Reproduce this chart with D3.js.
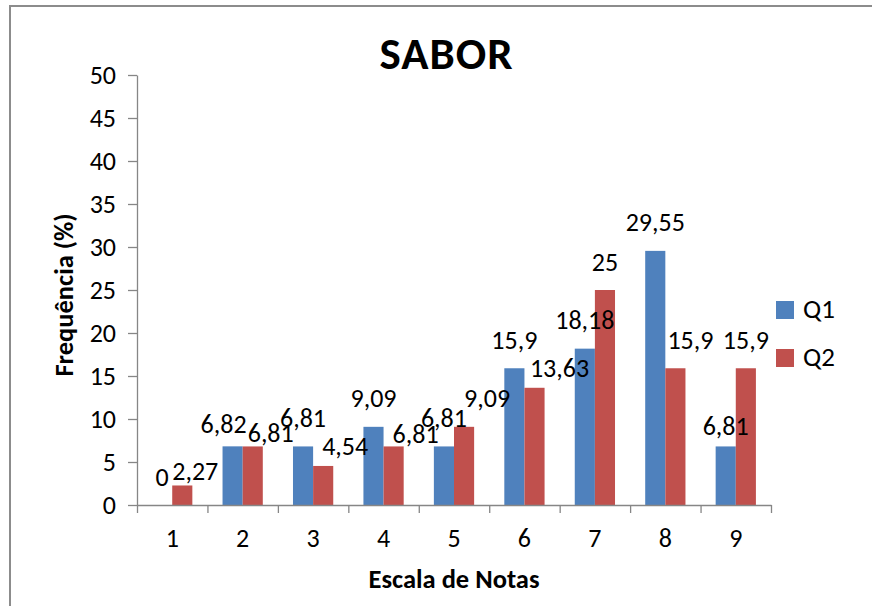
<!DOCTYPE html>
<html>
<head>
<meta charset="utf-8">
<script src="https://cdn.jsdelivr.net/npm/d3@7"></script>
<style>
  html, body { margin: 0; padding: 0; background: #ffffff; }
  svg { display: block; }
  text { font-family: Carlito, Lato, "Open Sans", sans-serif; fill: #000; }
</style>
</head>
<body>
<svg id="chart" width="872" height="606"></svg>
<script>
// ---- data ----
const title = "SABOR";
const categories = ["1", "2", "3", "4", "5", "6", "7", "8", "9"];
const seriesNames = ["Q1", "Q2"];
const q1Values = [0, 6.82, 6.81, 9.09, 6.81, 15.9, 18.18, 29.55, 6.81];
const q2Values = [2.27, 6.81, 4.54, 6.81, 9.09, 13.63, 25, 15.9, 15.9];
const yTickValues = [0, 5, 10, 15, 20, 25, 30, 35, 40, 45, 50];
const xAxisTitle = "Escala de Notas";
const yAxisTitle = "Frequência (%)";

// ---- layout (label nudges reproduce the manually moved data labels) ----
const colors = { Q1: "#4F81BD", Q2: "#C0504D" };
const labelNudge = {
  Q1: { dx: [0, -9, 0, 0, 0, 0, 0, 0, 0], dy: [0, 6.5, 0, 0, 0, 0, 0, 0, 8] },
  Q2: { dx: [13, 18, 22, 22, 23, 25, 0, 15, 0], dy: [14, 15, 8.5, 16.5, 0, 8.5, 0, 0, 0] }
};
const plot = { left: 137, right: 771, top: 75, bottom: 505 };

const svg = d3.select("#chart");

// chart frame
svg.append("rect")
  .attr("x", 10).attr("y", 6)
  .attr("width", 900).attr("height", 700)
  .attr("fill", "none").attr("stroke", "#8c8c8c").attr("stroke-width", 2);

const x = d3.scaleBand().domain(categories).range([plot.left, plot.right]).padding(0);
const xs = d3.scaleBand().domain(seriesNames).range([0, x.bandwidth()]).paddingInner(0).paddingOuter(0.75);
const y = d3.scaleLinear().domain([0, 50]).range([plot.bottom, plot.top]);

const seriesData = seriesNames.map((name, si) => ({
  name,
  values: (si === 0 ? q1Values : q2Values).map((v, i) => ({ cat: categories[i], v, i, name }))
}));

// bars
const barLayer = svg.append("g");
barLayer.selectAll("g").data(seriesData).join("g")
  .attr("fill", d => colors[d.name])
  .selectAll("rect").data(d => d.values).join("rect")
  .attr("x", d => x(d.cat) + xs(d.name))
  .attr("width", xs.bandwidth())
  .attr("y", d => y(d.v))
  .attr("height", d => y(0) - y(d.v));

// y axis
const yAxis = svg.append("g")
  .attr("transform", `translate(${plot.left},0)`)
  .call(d3.axisLeft(y).tickValues(yTickValues).tickSize(9).tickPadding(12).tickSizeOuter(0));
yAxis.selectAll("path, line").attr("stroke", "#868686").attr("stroke-width", 1.3);
yAxis.selectAll("text").style("font-size", "26px").attr("fill", "#000");

// x axis: boundary ticks
const xb = d3.scaleLinear().domain([0, categories.length]).range([plot.left, plot.right]);
const xAxisLine = svg.append("g")
  .attr("transform", `translate(0,${plot.bottom})`)
  .call(d3.axisBottom(xb).ticks(categories.length).tickSize(8).tickSizeOuter(0).tickFormat(""));
xAxisLine.selectAll("path, line").attr("stroke", "#868686").attr("stroke-width", 1.3);

// x axis: category labels
const xAxisLabels = svg.append("g")
  .attr("transform", `translate(0,${plot.bottom})`)
  .call(d3.axisBottom(x).tickSize(0).tickPadding(24));
xAxisLabels.select(".domain").remove();
xAxisLabels.selectAll("text").style("font-size", "26px").attr("fill", "#000");

// data labels (drawn above all bars)
const fmt = v => String(v).replace(".", ",");
svg.append("g").selectAll("g").data(seriesData).join("g")
  .selectAll("text").data(d => d.values).join("text")
  .attr("text-anchor", "middle")
  .attr("x", d => x(d.cat) + xs(d.name) + xs.bandwidth() / 2 + labelNudge[d.name].dx[d.i])
  .attr("y", d => y(d.v) - 19.5 + labelNudge[d.name].dy[d.i])
  .style("font-size", "26px")
  .attr("fill", "#000")
  .text(d => fmt(d.v));

// title
svg.append("text")
  .attr("x", 446.5).attr("y", 69)
  .attr("text-anchor", "middle")
  .style("font-size", "45px").style("font-weight", "bold")
  .style("letter-spacing", "1px")
  .text(title);

// axis titles
svg.append("text")
  .attr("x", (plot.left + plot.right) / 2).attr("y", 588)
  .attr("text-anchor", "middle")
  .style("font-size", "26.5px").style("font-weight", "bold")
  .text(xAxisTitle);

svg.append("text")
  .attr("transform", "translate(73,295) rotate(-90)")
  .attr("text-anchor", "middle")
  .style("font-size", "26.5px").style("font-weight", "bold")
  .text(yAxisTitle);

// legend
const legend = svg.append("g").selectAll("g").data(seriesNames).join("g")
  .attr("transform", (d, i) => `translate(776,${301 + i * 48})`);
legend.append("rect").attr("width", 18).attr("height", 18).attr("fill", d => colors[d]);
legend.append("text").attr("x", 27).attr("y", 16.5)
  .style("font-size", "27px").text(d => d);
</script>
</body>
</html>
